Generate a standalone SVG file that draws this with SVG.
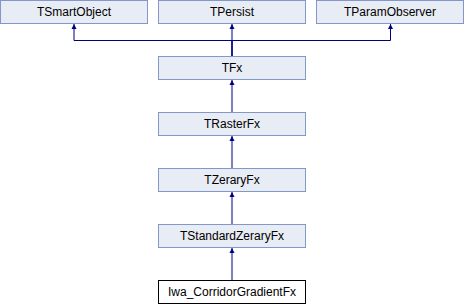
<svg xmlns="http://www.w3.org/2000/svg" width="464" height="304" viewBox="0 0 464 304">
  <style>
    .box { fill: #e8ecf5; stroke: #8497c9; stroke-width: 1; }
    .leaf { fill: #ffffff; stroke: #000000; stroke-width: 1; }
    .lbl { font-family: "Liberation Sans", Arial, sans-serif; font-size: 12px; fill: #000000; text-anchor: middle; }
    .edge { fill: none; stroke: #000080; stroke-width: 1; }
  </style>
  <defs>
    <marker id="arrow" viewBox="0 0 10 10" refX="10" refY="5" markerWidth="5" markerHeight="7" markerUnits="userSpaceOnUse" orient="auto">
      <path d="M0,0 L10,5 L0,10 z" fill="#000080"/>
    </marker>
  </defs>
  <rect width="464" height="304" fill="#ffffff"/>

  <g id="connectors">
    <path class="edge" d="M232,56 V40.5 H74 V24" marker-end="url(#arrow)"/>
    <path class="edge" d="M232,56 V24" marker-end="url(#arrow)"/>
    <path class="edge" d="M232,56 V40.5 H390.5 V24" marker-end="url(#arrow)"/>
    <path class="edge" d="M232,112 V80" marker-end="url(#arrow)"/>
    <path class="edge" d="M232,168 V136" marker-end="url(#arrow)"/>
    <path class="edge" d="M232,224 V192" marker-end="url(#arrow)"/>
    <path class="edge" d="M232,280 V248" marker-end="url(#arrow)"/>
  </g>

  <g id="TSmartObject">
    <rect class="box" x="0.5" y="0.5" width="147" height="23"/>
    <text class="lbl" x="74" y="16">TSmartObject</text>
  </g>
  <g id="TPersist">
    <rect class="box" x="158.5" y="0.5" width="147" height="23"/>
    <text class="lbl" x="232" y="16">TPersist</text>
  </g>
  <g id="TParamObserver">
    <rect class="box" x="316.5" y="0.5" width="147" height="23"/>
    <text class="lbl" x="390" y="16">TParamObserver</text>
  </g>
  <g id="TFx">
    <rect class="box" x="158.5" y="56.5" width="147" height="23"/>
    <text class="lbl" x="232" y="72">TFx</text>
  </g>
  <g id="TRasterFx">
    <rect class="box" x="158.5" y="112.5" width="147" height="23"/>
    <text class="lbl" x="232" y="128">TRasterFx</text>
  </g>
  <g id="TZeraryFx">
    <rect class="box" x="158.5" y="168.5" width="147" height="23"/>
    <text class="lbl" x="232" y="184">TZeraryFx</text>
  </g>
  <g id="TStandardZeraryFx">
    <rect class="box" x="158.5" y="224.5" width="147" height="23"/>
    <text class="lbl" x="232" y="240">TStandardZeraryFx</text>
  </g>
  <g id="Iwa_CorridorGradientFx">
    <rect class="leaf" x="158.5" y="280.5" width="147" height="23"/>
    <text class="lbl" x="232" y="296">Iwa_CorridorGradientFx</text>
  </g>
</svg>
